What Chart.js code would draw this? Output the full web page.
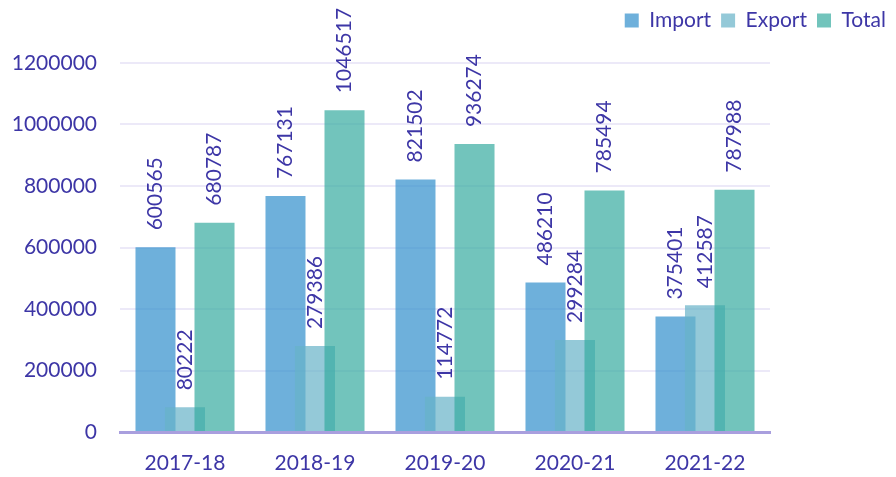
<!DOCTYPE html>
<html>
<head>
<meta charset="utf-8">
<script src="https://cdn.jsdelivr.net/npm/chart.js@4"></script>
<style>
  html, body { margin: 0; padding: 0; background: #fff; }
  canvas { display: block; }
</style>
</head>
<body>
<canvas id="tradeChart" width="896" height="477"></canvas>
<script>
var years = ['2017-18', '2018-19', '2019-20', '2020-21', '2021-22'];
var importValues = [600565, 767131, 821502, 486210, 375401];
var exportValues = [80222, 279386, 114772, 299284, 412587];
var totalValues = [680787, 1046517, 936274, 785494, 787988];
var yTicks = [0, 200000, 400000, 600000, 800000, 1000000, 1200000];

var textColor = '#3d36a6';
var fontFamily = 'Lato, "Open Sans", sans-serif';

// chart.js puts the first dataset on top, here the right-hand bar has to overlap the left one
var drawInOrder = {
  id: 'drawInOrder',
  beforeDatasetDraw: function() { return false; },
  afterDatasetsDraw: function(chart) {
    var a = chart.chartArea;
    var ctx = chart.ctx;
    ctx.save();
    ctx.beginPath();
    ctx.rect(a.left, a.top, a.right - a.left, a.bottom - a.top);
    ctx.clip();
    for (var i = 0; i < chart.data.datasets.length; i++) {
      chart.getDatasetMeta(i).controller.draw();
    }
    ctx.restore();
  }
};

// value written upright above every bar
var barLabels = {
  id: 'barLabels',
  afterDatasetsDraw: function(chart) {
    var ctx = chart.ctx;
    ctx.save();
    ctx.font = '21px ' + fontFamily;
    ctx.fillStyle = textColor;
    ctx.textAlign = 'left';
    ctx.textBaseline = 'middle';
    chart.data.datasets.forEach(function(ds, i) {
      chart.getDatasetMeta(i).data.forEach(function(bar, j) {
        ctx.save();
        ctx.translate(bar.x, bar.y - 17);
        ctx.rotate(-Math.PI / 2);
        ctx.fillText(String(ds.data[j]), 0, 0);
        ctx.restore();
      });
    });
    ctx.restore();
  }
};

var ctx = document.getElementById('tradeChart').getContext('2d');
var tradeChart = new Chart(ctx, {
  type: 'bar',
  data: {
    labels: years,
    datasets: [{
      label: 'Import',
      data: importValues,
      backgroundColor: 'rgba(49, 142, 204, 0.7)',
      xAxisID: 'x',
      yAxisID: 'y'
    }, {
      label: 'Export',
      data: exportValues,
      backgroundColor: 'rgba(103, 178, 199, 0.7)',
      xAxisID: 'x',
      yAxisID: 'y'
    }, {
      label: 'Total',
      data: totalValues,
      backgroundColor: 'rgba(54, 171, 159, 0.7)',
      xAxisID: 'x',
      yAxisID: 'y'
    }]
  },
  options: {
    responsive: false,
    animation: false,
    devicePixelRatio: 1,
    categoryPercentage: 0.681,
    barPercentage: 1.356,
    layout: {
      padding: { top: 0, right: 0, left: 0, bottom: 0 }
    },
    scales: {
      x: {
        z: 1,
        grid: { display: false, drawTicks: false },
        border: { display: true, color: '#a99fde', width: 3 },
        ticks: {
          color: textColor,
          font: { family: fontFamily, size: 21 },
          padding: 19
        },
        afterFit: function(s) { s.height = 45; }
      },
      y: {
        min: 0,
        max: 1200000,
        afterBuildTicks: function(s) {
          s.ticks = yTicks.map(function(v) { return { value: v }; });
        },
        grid: { color: '#ece9f8', lineWidth: 2, drawTicks: false },
        border: { display: false },
        ticks: {
          color: textColor,
          font: { family: fontFamily, size: 21 },
          padding: 23,
          callback: function(value) { return String(value); }
        },
        afterFit: function(s) { s.width = 120; }
      },
      xTop: {
        type: 'linear',
        position: 'top',
        grid: { display: false, drawTicks: false },
        border: { display: false },
        ticks: { display: false },
        afterFit: function(s) { s.height = 22; }
      },
      yRight: {
        type: 'linear',
        position: 'right',
        grid: { display: false, drawTicks: false },
        border: { display: false },
        ticks: { display: false },
        afterFit: function(s) { s.width = 126; }
      }
    },
    plugins: {
      legend: {
        position: 'top',
        align: 'end',
        labels: {
          color: textColor,
          font: { family: fontFamily, size: 21 },
          boxWidth: 14,
          boxHeight: 14,
          padding: 10
        }
      },
      tooltip: { enabled: false }
    }
  },
  plugins: [drawInOrder, barLabels]
});
</script>
</body>
</html>
